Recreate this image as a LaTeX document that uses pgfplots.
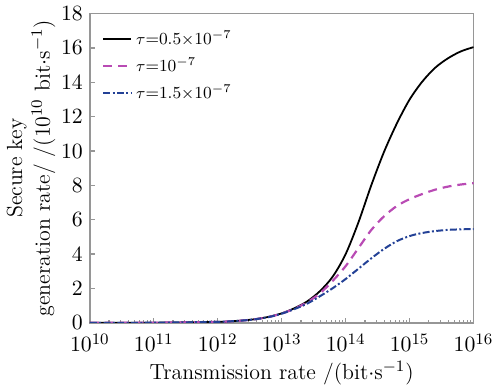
\documentclass[border=0pt]{standalone}
\usepackage{pgfplots}
\pgfplotsset{compat=1.18}
\definecolor{mag}{RGB}{185,75,180}
\definecolor{navy}{RGB}{35,65,150}
\definecolor{axgray}{RGB}{150,150,150}
\pgfplotstableread{
x y
1e10 0.0006
1e11 0.0055
1e12 0.055
1.585e12 0.087
2.512e12 0.138
3.981e12 0.22
6.310e12 0.35
1e13 0.55
1.585e13 0.85
2.512e13 1.25
3.981e13 1.85
6.310e13 2.7
1e14 4.0
1.585e14 5.85
2.512e14 8.0
3.981e14 9.95
6.310e14 11.6
1e15 13.0
1.585e15 14.05
2.512e15 14.85
3.981e15 15.4
6.310e15 15.8
1e16 16.05
}\tblack
\pgfplotstableread{
x y
1e10 0.0006
1e11 0.0055
1e12 0.055
1.585e12 0.087
2.512e12 0.137
3.981e12 0.215
6.310e12 0.34
1e13 0.54
1.585e13 0.82
2.512e13 1.2
3.981e13 1.72
6.310e13 2.45
1e14 3.3
1.585e14 4.35
2.512e14 5.4
3.981e14 6.2
6.310e14 6.8
1e15 7.2
1.585e15 7.5
2.512e15 7.75
3.981e15 7.93
6.310e15 8.05
1e16 8.13
}\tmag
\pgfplotstableread{
x y
1e10 0.0006
1e11 0.0055
1e12 0.055
1.585e12 0.087
2.512e12 0.136
3.981e12 0.212
6.310e12 0.335
1e13 0.53
1.585e13 0.8
2.512e13 1.12
3.981e13 1.55
6.310e13 2.02
1e14 2.55
1.585e14 3.15
2.512e14 3.75
3.981e14 4.3
6.310e14 4.75
1e15 5.05
1.585e15 5.23
2.512e15 5.34
3.981e15 5.41
6.310e15 5.44
1e16 5.46
}\tblue
\begin{document}
\begin{tikzpicture}
\begin{axis}[
  scale only axis,
  width=193pt, height=155.5pt,
  xmode=log, xmin=1e10, xmax=1e16,
  ymin=0, ymax=18,
  ytick={0,2,...,18},
  xtick={1e10,1e11,1e12,1e13,1e14,1e15,1e16},
  tick pos=left,
  tick align=inside,
  axis line style={axgray, line width=0.8pt},
  tick style={axgray, line width=0.6pt},
  major tick length=2.5pt,
  minor tick length=1.5pt,
  ticklabel style={font=\fontsize{11}{13}\selectfont},
  xticklabel style={yshift=-2pt},
  label style={font=\fontsize{11}{13}\selectfont},
  xlabel={Transmission rate /(bit$\cdot$s$^{-1}$)},
  ylabel={Secure key\\[1pt]generation rate/ /(10$^{10}$ bit$\cdot$s$^{-1}$)},
  ylabel style={align=center, yshift=-4pt},
  xlabel style={yshift=2pt},
  legend style={at={(0.026,0.965)}, anchor=north west, draw=none, fill=none,
    font=\fontsize{8.5}{10}\selectfont, row sep=1.5pt, inner sep=1pt},
  legend cell align=left,
  legend image code/.code={\draw[#1] (0pt,0pt) -- (14pt,0pt);},
]
\addplot[black, line width=0.9pt, smooth] table {\tblack};
\addlegendentry{$\tau$=0.5$\times$10$^{-7}$}
\addplot[mag, line width=1.1pt, dash pattern=on 4.5pt off 3pt, smooth] table {\tmag};
\addlegendentry{$\tau$=10$^{-7}$}
\addplot[navy, line width=1.0pt, dash pattern=on 3.5pt off 1.2pt on 1pt off 1.2pt, smooth] table {\tblue};
\addlegendentry{$\tau$=1.5$\times$10$^{-7}$}
\end{axis}
\end{tikzpicture}
\end{document}
